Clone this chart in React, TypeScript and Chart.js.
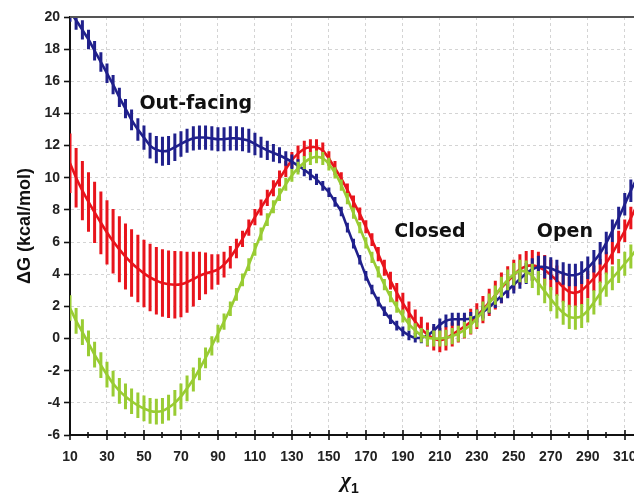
import React, { useEffect, useRef } from "react";
import { Chart, registerables } from "chart.js";

Chart.register(...registerables);

// chi_1 angle (degrees) of each sampled point
const ANGLES = [
  10, 13.3, 16.7, 20, 23.3, 26.7, 30, 33.3, 36.7, 40,
  43.3, 46.7, 50, 53.3, 56.7, 60, 63.3, 66.7, 70, 73.3,
  76.7, 80, 83.3, 86.7, 90, 93.3, 96.7, 100, 103.3, 106.7,
  110, 113.3, 116.7, 120, 123.3, 126.7, 130, 133.3, 136.7, 140,
  143.3, 146.7, 150, 153.3, 156.7, 160, 163.3, 166.7, 170, 173.3,
  176.7, 180, 183.3, 186.7, 190, 193.3, 196.7, 200, 203.3, 206.7,
  210, 213.3, 216.7, 220, 223.3, 226.7, 230, 233.3, 236.7, 240,
  243.3, 246.7, 250, 253.3, 256.7, 260, 263.3, 266.7, 270, 273.3,
  276.7, 280, 283.3, 286.7, 290, 293.3, 296.7, 300, 303.3, 306.7,
  310, 313.3, 316.7,
];

// Out-facing (blue)
const BLUE = [
  20.3, 19.8, 19.2, 18.6, 17.9, 17.2, 16.5, 15.8, 15.0, 14.3,
  13.6, 13.0, 12.5, 12.0, 11.75, 11.65, 11.7, 11.9, 12.1, 12.3,
  12.45, 12.5, 12.5, 12.45, 12.4, 12.4, 12.45, 12.45, 12.4, 12.3,
  12.1, 11.9, 11.7, 11.55, 11.4, 11.2, 11.0, 10.75, 10.5, 10.2,
  9.9, 9.5, 9.1, 8.5, 7.9, 6.9, 5.9, 4.9, 3.9, 3.05,
  2.3, 1.7, 1.2, 0.8, 0.45, 0.2, 0.05, 0.05, 0.2, 0.5,
  0.85, 1.1, 1.2, 1.2, 1.2, 1.25, 1.4, 1.65, 1.95, 2.3,
  2.65, 3.0, 3.35, 3.7, 4.05, 4.3, 4.45, 4.45, 4.35, 4.2,
  4.05, 3.95, 3.95, 4.1, 4.4, 4.8, 5.3, 5.95, 6.7, 7.5,
  8.35, 9.2, 10.0,
];
const BLUE_ERR = [
  0.6, 0.6, 0.6, 0.6, 0.6, 0.6, 0.6, 0.6, 0.6, 0.6,
  0.65, 0.7, 0.75, 0.8, 0.85, 0.9, 0.9, 0.85, 0.8, 0.75,
  0.75, 0.75, 0.75, 0.75, 0.75, 0.75, 0.75, 0.75, 0.75, 0.75,
  0.7, 0.65, 0.6, 0.55, 0.5, 0.45, 0.45, 0.4, 0.4, 0.35,
  0.35, 0.3, 0.3, 0.3, 0.3, 0.3, 0.3, 0.3, 0.3, 0.3,
  0.3, 0.3, 0.3, 0.3, 0.3, 0.3, 0.3, 0.35, 0.35, 0.4,
  0.4, 0.4, 0.4, 0.4, 0.4, 0.4, 0.4, 0.4, 0.4, 0.4,
  0.45, 0.5, 0.55, 0.6, 0.65, 0.7, 0.7, 0.7, 0.7, 0.7,
  0.7, 0.7, 0.7, 0.7, 0.7, 0.7, 0.7, 0.7, 0.7, 0.7,
  0.7, 0.7, 0.7,
];

// red series
const RED = [
  10.9, 10.0, 9.2, 8.5, 7.85, 7.2, 6.6, 6.05, 5.55, 5.1,
  4.7, 4.35, 4.05, 3.8, 3.6, 3.45, 3.38, 3.35, 3.38, 3.5,
  3.7, 3.9, 4.05, 4.15, 4.3, 4.6, 5.05, 5.6, 6.2, 6.9,
  7.55, 8.15, 8.75, 9.35, 9.95, 10.55, 11.1, 11.5, 11.8, 11.9,
  11.9, 11.7, 11.2, 10.6, 9.95, 9.25, 8.5, 7.75, 6.95, 6.15,
  5.25, 4.4, 3.6, 2.85, 2.2, 1.6, 1.05, 0.6, 0.25, 0.0,
  -0.1, 0.0, 0.25, 0.5, 0.75, 1.05, 1.4, 1.8, 2.25, 2.7,
  3.15, 3.55, 3.95, 4.3, 4.5, 4.55, 4.45, 4.25, 3.95, 3.6,
  3.2, 2.9, 2.85, 3.0, 3.35, 3.75, 4.2, 4.7, 5.3, 6.0,
  6.7, 7.5, 8.3,
];
const RED_ERR = [
  1.85, 1.85, 1.85, 1.85, 1.9, 1.95, 2.0, 2.0, 2.05, 2.05,
  2.1, 2.1, 2.1, 2.1, 2.1, 2.1, 2.1, 2.1, 2.05, 1.9,
  1.7, 1.5, 1.3, 1.1, 0.95, 0.8, 0.7, 0.6, 0.5, 0.5,
  0.5, 0.5, 0.5, 0.5, 0.5, 0.5, 0.5, 0.5, 0.5, 0.5,
  0.5, 0.5, 0.45, 0.45, 0.4, 0.4, 0.4, 0.4, 0.4, 0.4,
  0.45, 0.5, 0.55, 0.6, 0.65, 0.7, 0.75, 0.75, 0.75, 0.75,
  0.75, 0.75, 0.75, 0.75, 0.75, 0.8, 0.8, 0.85, 0.85, 0.9,
  0.95, 0.95, 0.95, 0.95, 0.95, 0.95, 0.95, 0.95, 0.95, 0.95,
  0.95, 0.95, 0.9, 0.9, 0.85, 0.8, 0.75, 0.7, 0.7, 0.7,
  0.7, 0.7, 0.7,
];

// green series
const GREEN = [
  1.9, 1.1, 0.4, -0.3, -1.0, -1.65, -2.25, -2.8, -3.25, -3.6,
  -3.9, -4.15, -4.35, -4.5, -4.55, -4.5, -4.3, -4.0, -3.6, -3.1,
  -2.55, -1.9, -1.2, -0.45, 0.3, 1.05, 1.85, 2.75, 3.65, 4.6,
  5.55, 6.5, 7.4, 8.2, 8.95, 9.6, 10.15, 10.6, 10.95, 11.2,
  11.3, 11.2, 10.85, 10.3, 9.55, 8.7, 7.8, 6.9, 5.95, 5.05,
  4.15, 3.35, 2.6, 1.95, 1.4, 0.9, 0.5, 0.2, 0.05, 0.0,
  0.0, 0.05, 0.15, 0.3, 0.55, 0.85, 1.25, 1.7, 2.2, 2.7,
  3.2, 3.65, 4.0, 4.2, 4.15, 3.9, 3.45, 2.95, 2.45, 2.0,
  1.6, 1.35, 1.3, 1.4, 1.75, 2.25, 2.8, 3.35, 3.75, 4.2,
  4.65, 5.1, 5.6,
];
const GREEN_ERR = [
  0.8, 0.8, 0.8, 0.8, 0.8, 0.8, 0.8, 0.8, 0.8, 0.8,
  0.8, 0.8, 0.8, 0.8, 0.8, 0.8, 0.8, 0.8, 0.8, 0.8,
  0.75, 0.7, 0.65, 0.6, 0.55, 0.5, 0.45, 0.4, 0.4, 0.4,
  0.4, 0.4, 0.4, 0.4, 0.4, 0.4, 0.4, 0.4, 0.4, 0.4,
  0.4, 0.4, 0.4, 0.35, 0.35, 0.35, 0.35, 0.35, 0.35, 0.35,
  0.35, 0.35, 0.35, 0.35, 0.4, 0.4, 0.45, 0.45, 0.5, 0.5,
  0.5, 0.5, 0.5, 0.5, 0.5, 0.55, 0.55, 0.6, 0.6, 0.6,
  0.65, 0.65, 0.7, 0.7, 0.7, 0.75, 0.75, 0.75, 0.75, 0.75,
  0.75, 0.75, 0.75, 0.75, 0.75, 0.75, 0.75, 0.75, 0.75, 0.75,
  0.75, 0.75, 0.75,
];

const REGION_LABELS = ["Out-facing", "Closed", "Open"];
const REGION_X = [78, 204.6, 277.6];
const REGION_Y = [14.6, 6.62, 6.62];

const Y_TITLE = "ΔG (kcal/mol)";
const X_TITLE = "χ";
const X_TITLE_SUB = "1";

const COL_BLUE = "#20208c";
const COL_RED = "#e8141c";
const COL_GREEN = "#99cc33";

export default function App() {
  const ref = useRef<HTMLCanvasElement>(null);

  useEffect(() => {
    if (!ref.current) return;
    const pts = (vals: number[]) => ANGLES.map((x, i) => ({ x, y: vals[i] }));

    const errorBars = {
      id: "errorBars",
      afterDatasetDraw(chart: any, args: any) {
        const ds = chart.data.datasets[args.index];
        const errs: number[] = ds.errors;
        if (!errs) return;
        const { ctx, chartArea } = chart;
        const ys = chart.scales.y;
        const meta = args.meta;
        ctx.save();
        ctx.beginPath();
        ctx.rect(chartArea.left, chartArea.top, chartArea.right - chartArea.left, chartArea.bottom - chartArea.top);
        ctx.clip();
        ctx.strokeStyle = ds.borderColor;
        ctx.lineWidth = 3;
        ctx.lineCap = "butt";
        ctx.beginPath();
        meta.data.forEach((el: any, i: number) => {
          const v = ds.data[i].y;
          const e = errs[i];
          ctx.moveTo(el.x, ys.getPixelForValue(v + e));
          ctx.lineTo(el.x, ys.getPixelForValue(v - e));
        });
        ctx.stroke();
        ctx.restore();
      },
    };

    const decorations = {
      id: "decorations",
      afterDraw(chart: any) {
        const { ctx, chartArea, scales } = chart;
        const xs = scales.x;
        const ys = scales.y;
        ctx.save();
        // top frame line
        ctx.strokeStyle = "#555";
        ctx.lineWidth = 2;
        ctx.beginPath();
        ctx.moveTo(chartArea.left, chartArea.top);
        ctx.lineTo(chartArea.right, chartArea.top);
        ctx.stroke();
        // x tick marks crossing the axis
        ctx.strokeStyle = "#111";
        ctx.lineWidth = 1.6;
        const yAxis = chartArea.bottom;
        xs.ticks.forEach((t: any) => {
          const v = t.value;
          const major = Math.round(v - 10) % 20 === 0;
          const h = major ? 5 : 3;
          const px = Math.round(xs.getPixelForValue(v));
          ctx.beginPath();
          ctx.moveTo(px, yAxis - h);
          ctx.lineTo(px, yAxis + h);
          ctx.stroke();
        });
        // region labels
        ctx.fillStyle = "#111";
        ctx.font = "bold 19px 'DejaVu Sans'";
        ctx.textAlign = "center";
        ctx.textBaseline = "middle";
        REGION_LABELS.forEach((s, i) => {
          ctx.fillText(s, xs.getPixelForValue(REGION_X[i]), ys.getPixelForValue(REGION_Y[i]));
        });
        // x axis title: chi with subscript 1
        const cx = (chartArea.left + chartArea.right) / 2 - 7;
        ctx.font = "italic bold 22px 'Liberation Serif'";
        ctx.textAlign = "right";
        ctx.textBaseline = "alphabetic";
        ctx.fillText(X_TITLE, cx + 6, 487);
        ctx.font = "bold 14px 'Liberation Sans'";
        ctx.textAlign = "left";
        ctx.fillText(X_TITLE_SUB, cx + 6, 493);
        ctx.restore();
      },
    };

    const chart = new Chart(ref.current, {
      type: "line",
      data: {
        datasets: [
          { label: "green", data: pts(GREEN), borderColor: COL_GREEN, errors: GREEN_ERR } as any,
          { label: "blue", data: pts(BLUE), borderColor: COL_BLUE, errors: BLUE_ERR } as any,
          { label: "red", data: pts(RED), borderColor: COL_RED, errors: RED_ERR } as any,
        ],
      },
      options: {
        animation: false,
        responsive: true,
        maintainAspectRatio: false,
        layout: { padding: { top: 17, left: 0, right: 0, bottom: 0 } },
        elements: {
          point: { radius: 0, hoverRadius: 0 },
          line: { borderWidth: 2.6, tension: 0.2 },
        },
        plugins: {
          legend: { display: false },
          tooltip: { enabled: false },
        },
        events: [],
        scales: {
          x: {
            type: "linear",
            min: 10,
            max: 315,
            afterFit: (s: any) => {
              s.height = 60;
              s.paddingLeft = 0;
              s.paddingRight = 0;
            },
            ticks: {
              stepSize: 10,
              includeBounds: false,
              autoSkip: false,
              maxRotation: 0,
              padding: 14,
              color: "#222",
              font: { family: "'Liberation Sans'", size: 14, weight: "bold" },
              callback: (v: any) => {
                const n = Number(v);
                return Math.round(n - 10) % 20 === 0 ? String(n) : "";
              },
            },
            grid: {
              drawTicks: false,
              lineWidth: 1,
              color: (c: any) => {
                const n = c.tick ? c.tick.value : 0;
                return Math.round(n - 10) % 20 === 0 && n > 10 ? "#d4d4d4" : "rgba(0,0,0,0)";
              },
            },
            border: { display: true, color: "#111", width: 2, dash: [3, 3] },
          },
          y: {
            type: "linear",
            min: -6,
            max: 20,
            afterFit: (s: any) => {
              s.width = 70;
              s.paddingTop = 0;
              s.paddingBottom = 0;
            },
            ticks: {
              stepSize: 2,
              padding: 4,
              color: "#222",
              font: { family: "'Liberation Sans'", size: 14, weight: "bold" },
            },
            grid: {
              drawTicks: true,
              tickLength: 6,
              tickColor: "#111",
              tickWidth: 1.6,
              lineWidth: 1,
              color: (c: any) => {
                const n = c.tick ? c.tick.value : 0;
                return n > -6 && n < 20 ? "#d4d4d4" : "rgba(0,0,0,0)";
              },
            },
            border: { display: true, color: "#111", width: 2, dash: [3, 3] },
            title: {
              display: true,
              text: Y_TITLE,
              color: "#111",
              padding: { top: 14, bottom: 0 },
              font: { family: "'Liberation Sans'", size: 18, weight: "bold" },
            },
          },
        },
      },
      plugins: [errorBars, decorations],
    } as any);

    return () => chart.destroy();
  }, []);

  return (
    <div style={{ position: "fixed", left: 0, top: 0, width: 634, height: 495, background: "#fff" }}>
      <canvas ref={ref} />
    </div>
  );
}
